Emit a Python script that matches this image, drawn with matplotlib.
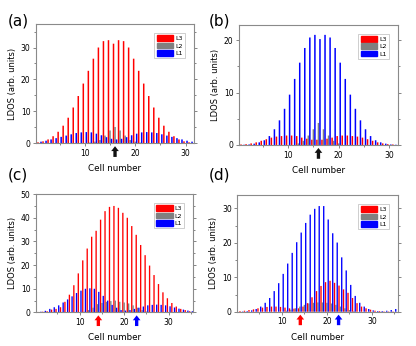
import numpy as np
import matplotlib
matplotlib.use("Agg")
import matplotlib.pyplot as plt
from matplotlib.patches import Patch
from matplotlib.ticker import MultipleLocator

# cells 1..31 for (a) and (b), 1..35 for (c) and (d)
cells_ab = np.arange(1, 32)
cells_cd = np.arange(1, 36)

# (a)
a_L3 = [0.3, 0.6, 1.2, 2.2, 3.6, 5.5, 8.0, 11.2, 14.8, 18.7, 22.7, 26.5, 30.0, 32.0, 32.3, 31.2,
        32.3, 32.0, 30.0, 26.5, 22.7, 18.7, 14.8, 11.2, 8.0, 5.5, 3.6, 2.2, 1.2, 0.6, 0.3]
a_L2 = [0, 0, 0, 0, 0, 0, 0, 0, 0, 0, 0.2, 0.5, 1.0, 2.4, 4.0, 5.1,
        4.0, 2.4, 1.0, 0.5, 0.2, 0, 0, 0, 0, 0, 0, 0, 0, 0, 0]
a_L1 = [0.5, 0.8, 1.2, 1.6, 2.0, 2.4, 2.8, 3.2, 3.4, 3.5, 3.4, 3.0, 2.5, 1.9, 1.4, 1.2,
        1.4, 1.9, 2.5, 3.0, 3.4, 3.5, 3.4, 3.2, 2.8, 2.4, 2.0, 1.6, 1.2, 0.8, 0.5]

# (b)
b_L3 = [0.1, 0.15, 0.3, 0.5, 0.8, 1.1, 1.4, 1.6, 1.7, 1.8, 1.8, 1.7, 1.4, 1.2, 1.0, 1.0,
        1.0, 1.2, 1.4, 1.7, 1.8, 1.8, 1.7, 1.6, 1.4, 1.1, 0.8, 0.5, 0.3, 0.15, 0.1]
b_L2 = [0, 0, 0, 0, 0, 0, 0, 0, 0, 0, 0, 0.3, 0.8, 1.8, 3.0, 4.2,
        3.0, 1.8, 0.8, 0.3, 0, 0, 0, 0, 0, 0, 0, 0, 0, 0, 0]
b_L1 = [0.05, 0.1, 0.25, 0.5, 0.9, 1.7, 3.0, 4.7, 6.9, 9.6, 12.6, 15.7, 18.5, 20.5, 21.0, 20.2,
        21.0, 20.5, 18.5, 15.7, 12.6, 9.6, 6.9, 4.7, 3.0, 1.7, 0.9, 0.5, 0.25, 0.1, 0.05]

# (c)
c_L3 = [0.2, 0.3, 0.5, 1.2, 1.5, 2.2, 4.5, 7.5, 11.5, 16.5, 22.0, 27.0, 32.0, 34.5, 39.2, 42.8,
        44.6, 45.0, 44.2, 42.1, 40.0, 36.5, 32.8, 28.5, 24.2, 19.8, 15.8, 12.0, 8.5, 6.0, 4.0,
        2.5, 1.5, 1.0, 0.5]
c_L2 = [0, 0, 0, 0, 0, 0, 0, 0, 0, 0, 0.3, 1.0, 2.0, 3.5, 4.0, 4.5,
        4.8, 5.0, 4.5, 4.2, 3.8, 3.0, 2.0, 1.0, 0.4, 0, 0, 0, 0, 0, 0, 0, 0, 0, 0]
c_L1 = [0.3, 0.7, 1.5, 2.2, 3.0, 4.2, 5.5, 6.8, 8.2, 9.2, 10.0, 10.2, 10.0, 8.7, 7.0, 5.0,
        3.2, 2.0, 1.0, 0.8, 1.0, 1.5, 2.0, 2.5, 3.0, 3.2, 3.3, 3.2, 3.0, 2.6, 2.1,
        1.6, 1.2, 0.8, 0.5]

# (d)
d_L3 = [0.2, 0.3, 0.5, 0.7, 1.0, 1.2, 1.4, 1.5, 1.5, 1.4, 1.2, 1.0, 0.9, 1.0, 1.5, 2.5,
        4.2, 6.0, 7.5, 8.6, 9.0, 8.4, 7.6, 6.5, 5.5, 4.0, 2.5, 1.5, 1.0, 0.6, 0.3,
        0.2, 0.1, 0.1, 0.1]
d_L2 = [0, 0, 0, 0, 0, 0, 0, 0, 0, 0, 0.3, 0.6, 1.0, 1.5, 2.0, 2.4,
        2.6, 2.7, 2.7, 2.6, 2.4, 2.0, 1.5, 1.0, 0.5, 0.2, 0, 0, 0, 0, 0, 0, 0, 0, 0]
d_L1 = [0.1, 0.2, 0.4, 0.8, 1.5, 2.6, 4.0, 6.0, 8.3, 11.0, 14.0, 17.1, 20.2, 23.0, 25.8, 28.2,
        29.9, 30.7, 30.7, 26.8, 22.8, 20.1, 15.8, 12.0, 7.8, 4.6, 2.6, 1.5, 0.8, 0.4, 0.2,
        0.2, 0.3, 0.5, 0.8]

RED, GRAY, BLUE = "#ff0000", "#808080", "#0000ff"
W = 0.3

panels = [
    ("(a)", [0.0865, 0.586, 0.380, 0.344], cells_ab, a_L3, a_L2, a_L1, (0.3, 31.7), 37.3, [(16, "#111111")]),
    ("(b)", [0.5745, 0.581, 0.382, 0.347], cells_ab, b_L3, b_L2, b_L1, (0.3, 31.7), 22.9, [(16, "#111111")]),
    ("(c)", [0.0865, 0.097, 0.378, 0.342], cells_cd, c_L3, c_L2, c_L1, (0.2, 35.5), 50.0, [(14.2, RED), (22.8, BLUE)]),
    ("(d)", [0.5704, 0.099, 0.3863, 0.3373], cells_cd, d_L3, d_L2, d_L1, (0.1, 35.8), 33.9, [(14.1, RED), (22.6, BLUE)]),
]
label_pos = {"(a)": (0.018, 0.96), "(b)": (0.503, 0.96), "(c)": (0.018, 0.515), "(d)": (0.503, 0.515)}

fig = plt.figure(figsize=(4.16, 3.46), dpi=100)

for name, rect, cells, L3, L2, L1, xlim, ytop, arrows in panels:
    ax = fig.add_axes(rect)
    for off, vals, col in [(-W, L3, RED), (0, L2, GRAY), (W, L1, BLUE)]:
        bars = ax.bar(cells + off, vals, width=W, color=col, linewidth=0)
        for b in bars:
            b.set_snap(False)
    ax.set_xlim(*xlim)
    ax.set_ylim(0, ytop)
    ax.xaxis.set_major_locator(MultipleLocator(10))
    ax.xaxis.set_minor_locator(MultipleLocator(5))
    ax.yaxis.set_major_locator(MultipleLocator(10))
    ax.yaxis.set_minor_locator(MultipleLocator(5))
    ax.tick_params(which="both", labelsize=5.5, width=0.5, color="#555555", pad=1.5,
                   right=True, direction="out")
    ax.tick_params(which="major", length=2.5)
    ax.tick_params(which="minor", length=1.5)
    for s in ax.spines.values():
        s.set_color("#8a8a8a")
        s.set_linewidth(0.8)
    ax.set_xlabel("Cell number", fontsize=6.3, labelpad=4.5)
    ax.set_ylabel("LDOS (arb. units)", fontsize=6, labelpad=3)
    handles = [Patch(color=RED, label="L3"), Patch(color=GRAY, label="L2"), Patch(color=BLUE, label="L1")]
    leg = ax.legend(handles=handles, loc="upper right", fontsize=4.6, frameon=True, fancybox=False,
                    handlelength=2.6, handleheight=1.0, handletextpad=0.3, labelspacing=0.2,
                    borderpad=0.35, borderaxespad=1.4, edgecolor="#aaaaaa")
    leg.get_frame().set_linewidth(0.5)
    for xpos, col in arrows:
        ax.annotate("", xy=(xpos, -0.025), xytext=(xpos, -0.115),
                    xycoords=("data", "axes fraction"), textcoords=("data", "axes fraction"),
                    arrowprops=dict(facecolor=col, edgecolor="none", width=2.4, headwidth=5.5,
                                    headlength=3.5, shrink=0), annotation_clip=False)
    fig.text(*label_pos[name], name, fontsize=11, ha="left", va="top")

fig.savefig("out.png", dpi=100)
